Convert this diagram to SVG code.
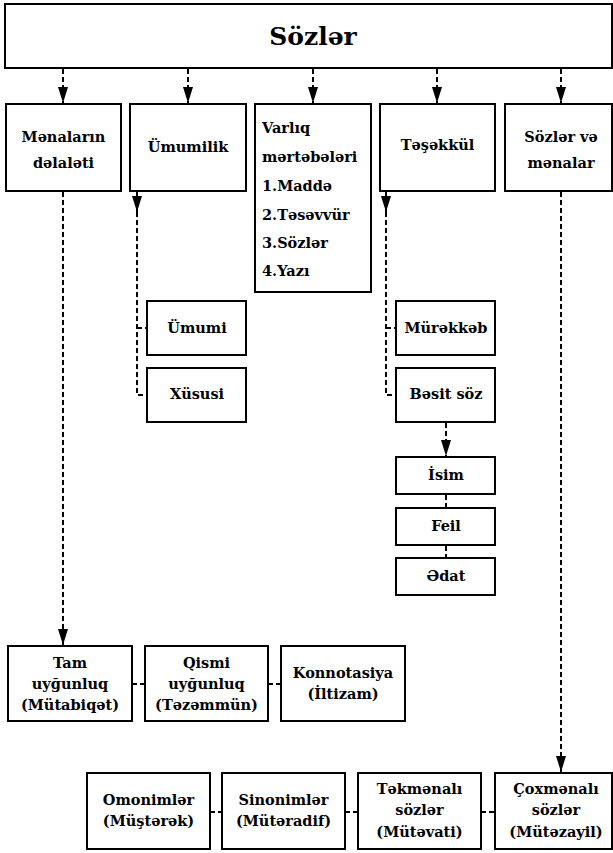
<svg xmlns="http://www.w3.org/2000/svg" width="613" height="853" viewBox="0 0 613 853">
<style>
.box{fill:#fff;stroke:#000;stroke-width:2}
text{font-family:'DejaVu Serif','Liberation Serif',serif;font-weight:bold;fill:#000}
.t{font-size:14.5px;text-anchor:middle}
.tl{font-size:14.5px}
.title{font-size:25px;text-anchor:middle}
.d{fill:none;stroke:#000;stroke-width:2;stroke-dasharray:5,3}
.a{fill:none;stroke:#000;stroke-width:2;stroke-dasharray:5,3;marker-end:url(#ah)}
.s{fill:none;stroke:#000;stroke-width:2;marker-end:url(#ah)}
</style>
<defs>
<marker id="ah" viewBox="0 0 16 10" refX="16" refY="5" markerWidth="16" markerHeight="10" markerUnits="userSpaceOnUse" orient="auto">
<path d="M0,0 L16,5 L0,10 z" fill="#000"/>
</marker>
</defs>
<rect width="613" height="853" fill="#fff"/>
<g id="connectors">
<path class="a" d="M63,69 V103"/>
<path class="a" d="M188,69 V103"/>
<path class="a" d="M313,69 V103"/>
<path class="a" d="M437,69 V103"/>
<path class="a" d="M561,69 V103"/>
<path class="a" d="M63,192 V645"/>
<path class="a" d="M561,192 V772"/>
<path class="s" d="M137,192 V212"/>
<path class="d" d="M137,212 V395 H147"/>
<path class="d" d="M137,328 H147"/>
<path class="s" d="M386,192 V212"/>
<path class="d" d="M386,212 V395 H396"/>
<path class="d" d="M386,328 H396"/>
<path class="a" d="M446,423 V456"/>
<path class="d" d="M446,495 V508"/>
<path class="d" d="M446,546 V558"/>
<path class="d" d="M132,684 H145"/>
<path class="d" d="M268,684 H281"/>
<path class="d" d="M210,812 H222"/>
<path class="d" d="M345,812 H358"/>
<path class="d" d="M481,812 H495"/>
</g>
<g id="sozler"><rect class="box" x="5" y="4" width="607" height="64"/><text class="title" x="313" y="45">Sözlər</text></g>
<g id="menalarin"><rect class="box" x="6" y="104" width="115" height="87"/><text class="t" x="63.5" y="142">Mənaların</text><text class="t" x="63.5" y="168">dəlaləti</text></g>
<g id="umumilik"><rect class="box" x="130" y="104" width="116" height="87"/><text class="t" x="188" y="152">Ümumilik</text></g>
<g id="varliq"><rect class="box" x="255" y="104" width="116" height="188"/>
<text class="tl" x="262" y="133">Varlıq</text>
<text class="tl" x="262" y="162">mərtəbələri</text>
<text class="tl" x="262" y="191">1.Maddə</text>
<text class="tl" x="262" y="220">2.Təsəvvür</text>
<text class="tl" x="262" y="248">3.Sözlər</text>
<text class="tl" x="262" y="276">4.Yazı</text></g>
<g id="tesekkul"><rect class="box" x="380" y="104" width="115" height="87"/><text class="t" x="437.5" y="150">Təşəkkül</text></g>
<g id="sozler-ve-menalar"><rect class="box" x="505" y="104" width="107" height="87"/><text class="t" x="561" y="142">Sözlər və</text><text class="t" x="561" y="168">mənalar</text></g>
<g id="umumi"><rect class="box" x="147" y="301" width="99" height="54"/><text class="t" x="197" y="333">Ümumi</text></g>
<g id="xususi"><rect class="box" x="147" y="368" width="99" height="54"/><text class="t" x="197" y="399">Xüsusi</text></g>
<g id="murekkeb"><rect class="box" x="396" y="301" width="99" height="54"/><text class="t" x="446" y="333">Mürəkkəb</text></g>
<g id="besit"><rect class="box" x="396" y="368" width="99" height="54"/><text class="t" x="446" y="399">Bəsit söz</text></g>
<g id="isim"><rect class="box" x="396" y="457" width="99" height="37"/><text class="t" x="446" y="480">İsim</text></g>
<g id="feil"><rect class="box" x="396" y="508" width="99" height="37"/><text class="t" x="446" y="531">Feil</text></g>
<g id="edat"><rect class="box" x="396" y="558" width="99" height="37"/><text class="t" x="446" y="581">Ədat</text></g>
<g id="tam"><rect class="box" x="8" y="646" width="124" height="75"/><text class="t" x="70" y="668">Tam</text><text class="t" x="70" y="689">uyğunluq</text><text class="t" x="70" y="710">(Mütabiqət)</text></g>
<g id="qismi"><rect class="box" x="145" y="646" width="123" height="75"/><text class="t" x="206.5" y="668">Qismi</text><text class="t" x="206.5" y="689">uyğunluq</text><text class="t" x="206.5" y="710">(Təzəmmün)</text></g>
<g id="konnotasiya"><rect class="box" x="281" y="646" width="124" height="75"/><text class="t" x="343" y="678">Konnotasiya</text><text class="t" x="343" y="699">(İltizam)</text></g>
<g id="omonimler"><rect class="box" x="87" y="773" width="123" height="76"/><text class="t" x="148.5" y="805">Omonimlər</text><text class="t" x="148.5" y="826">(Müştərək)</text></g>
<g id="sinonimler"><rect class="box" x="222" y="773" width="123" height="76"/><text class="t" x="283.5" y="805">Sinonimlər</text><text class="t" x="283.5" y="826">(Mütəradif)</text></g>
<g id="tekmenali"><rect class="box" x="358" y="773" width="123" height="76"/><text class="t" x="419.5" y="794">Təkmənalı</text><text class="t" x="419.5" y="815">sözlər</text><text class="t" x="419.5" y="837">(Mütəvati)</text></g>
<g id="coxmenali"><rect class="box" x="495" y="773" width="117" height="76"/><text class="t" x="556" y="794">Çoxmənalı</text><text class="t" x="556" y="815">sözlər</text><text class="t" x="556" y="837">(Mütəzayil)</text></g>
</svg>
